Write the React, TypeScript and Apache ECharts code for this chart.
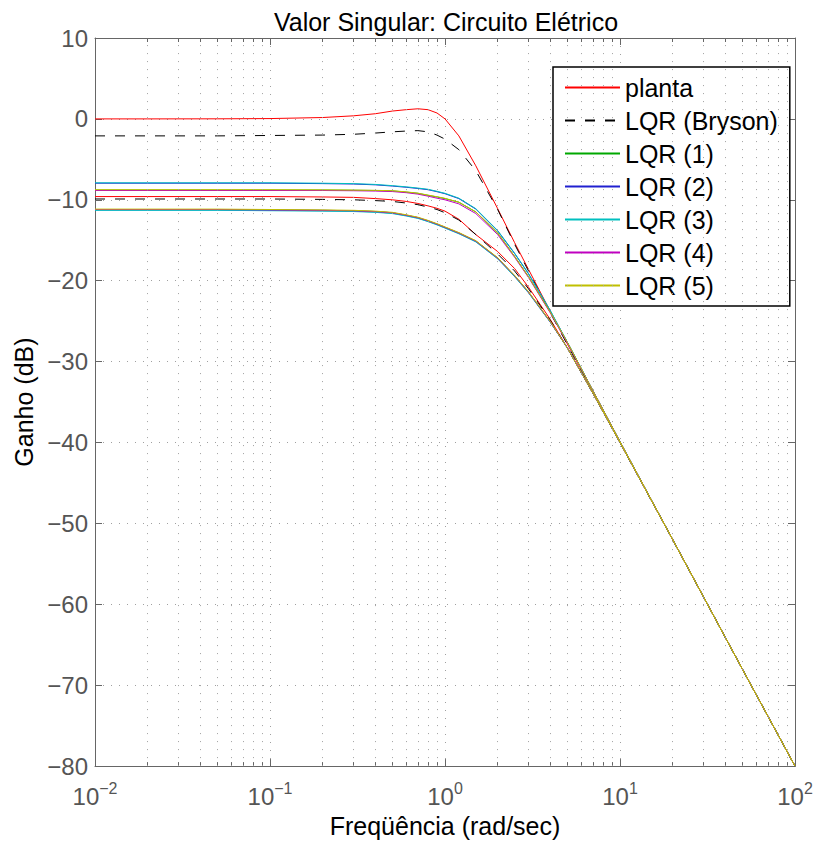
import { useEffect, useRef } from 'react';
import * as echarts from 'echarts';

const freq = [0.01, 0.02, 0.05, 0.1, 0.2, 0.3, 0.4, 0.5, 0.6, 0.7, 0.8, 0.9, 1.0, 1.2, 1.5, 2, 2.5, 3, 4, 5, 7, 10, 20, 50, 100];

// Singular values in dB (first and second singular value of each system)
const plantaSv1 = [0.0, 0.0, 0.01, 0.04, 0.17, 0.38, 0.64, 0.97, 1.14, 1.25, 1.14, 0.73, 0.0, -2.1, -5.8, -11.1, -15.3, -18.6, -23.8, -27.8, -33.7, -40.0, -52.0, -68.0, -80.0];
const plantaSv2 = [-9.6, -9.6, -9.6, -9.6, -9.65, -9.7, -9.85, -10.0, -10.2, -10.45, -10.75, -11.05, -11.4, -12.4, -14.3, -16.4, -18.5, -20.8, -24.8, -28.3, -33.9, -40.0, -52.0, -68.0, -80.0];
const brysonSv1 = [-2.1, -2.1, -2.1, -2.05, -2.0, -1.9, -1.75, -1.6, -1.5, -1.45, -1.6, -2.0, -2.5, -3.8, -6.4, -11.2, -15.5, -18.8, -24.0, -27.9, -33.7, -40.0, -52.0, -68.0, -80.0];
const brysonSv2 = [-9.9, -9.9, -9.9, -9.9, -9.95, -10.0, -10.1, -10.2, -10.4, -10.6, -10.9, -11.2, -11.6, -12.5, -14.3, -16.7, -18.8, -21.0, -24.9, -28.3, -33.9, -40.0, -52.0, -68.0, -80.0];
const lqr1Sv1 = [-8.8, -8.8, -8.8, -8.8, -8.8, -8.82, -8.85, -8.9, -9.05, -9.2, -9.45, -9.65, -9.85, -10.3, -11.5, -14.1, -17.0, -19.5, -23.9, -27.6, -33.6, -39.9, -52.0, -68.0, -80.0];
const lqr1Sv2 = [-11.2, -11.2, -11.2, -11.25, -11.3, -11.35, -11.45, -11.6, -11.9, -12.2, -12.6, -13.0, -13.4, -14.1, -15.1, -17.2, -19.4, -21.4, -25.1, -28.3, -33.9, -40.0, -52.0, -68.0, -80.0];
const lqr2Sv1 = [-7.95, -7.95, -7.95, -7.95, -8.0, -8.05, -8.15, -8.3, -8.45, -8.6, -8.75, -9.0, -9.25, -9.85, -11.15, -13.85, -16.65, -19.15, -23.75, -27.6, -33.6, -39.9, -52.0, -68.0, -80.0];
const lqr2Sv2 = [-11.25, -11.25, -11.25, -11.3, -11.35, -11.4, -11.5, -11.65, -11.95, -12.25, -12.65, -13.05, -13.45, -14.15, -15.15, -17.25, -19.45, -21.45, -25.1, -28.3, -33.9, -40.0, -52.0, -68.0, -80.0];
const lqr3Sv1 = [-7.9, -7.9, -7.9, -7.9, -7.95, -8.0, -8.1, -8.25, -8.4, -8.55, -8.7, -8.95, -9.2, -9.8, -11.1, -13.8, -16.6, -19.1, -23.7, -27.6, -33.6, -39.9, -52.0, -68.0, -80.0];
const lqr3Sv2 = [-11.3, -11.3, -11.3, -11.35, -11.4, -11.45, -11.55, -11.7, -12.0, -12.3, -12.7, -13.1, -13.5, -14.2, -15.2, -17.3, -19.5, -21.5, -25.15, -28.3, -33.9, -40.0, -52.0, -68.0, -80.0];
const lqr4Sv1 = [-8.85, -8.85, -8.85, -8.85, -8.85, -8.88, -8.92, -8.98, -9.12, -9.3, -9.55, -9.8, -10.0, -10.5, -11.7, -14.3, -17.1, -19.6, -24.0, -27.7, -33.6, -39.9, -52.0, -68.0, -80.0];
const lqr4Sv2 = [-11.2, -11.2, -11.2, -11.25, -11.3, -11.35, -11.45, -11.6, -11.9, -12.2, -12.6, -13.0, -13.4, -14.1, -15.1, -17.2, -19.4, -21.4, -25.1, -28.3, -33.9, -40.0, -52.0, -68.0, -80.0];
const lqr5Sv1 = [-8.75, -8.75, -8.75, -8.75, -8.77, -8.8, -8.83, -8.88, -9.02, -9.18, -9.42, -9.62, -9.82, -10.3, -11.5, -14.1, -17.0, -19.5, -23.9, -27.6, -33.6, -39.9, -52.0, -68.0, -80.0];
const lqr5Sv2 = [-11.15, -11.15, -11.15, -11.2, -11.25, -11.3, -11.4, -11.55, -11.85, -12.15, -12.55, -12.95, -13.35, -14.05, -15.05, -17.15, -19.35, -21.35, -25.05, -28.3, -33.9, -40.0, -52.0, -68.0, -80.0];

const seriesNames = ['planta', 'LQR (Bryson)', 'LQR (1)', 'LQR (2)', 'LQR (3)', 'LQR (4)', 'LQR (5)'];
const seriesColors = ['#ff0000', '#000000', '#00a800', '#2020d0', '#00bfbf', '#c000c0', '#c0c000'];
const seriesValues = [
  [plantaSv1, plantaSv2],
  [brysonSv1, brysonSv2],
  [lqr1Sv1, lqr1Sv2],
  [lqr2Sv1, lqr2Sv2],
  [lqr3Sv1, lqr3Sv2],
  [lqr4Sv1, lqr4Sv2],
  [lqr5Sv1, lqr5Sv2],
];

// Axis ticks
const xDecadeExponents = ['\u22122', '\u22121', '0', '1', '2'];
const xMinorValues = [
  0.02, 0.03, 0.04, 0.05, 0.06, 0.07, 0.08, 0.09,
  0.2, 0.3, 0.4, 0.5, 0.6, 0.7, 0.8, 0.9,
  2, 3, 4, 5, 6, 7, 8, 9,
  20, 30, 40, 50, 60, 70, 80, 90,
];
const yMin = -80;
const yMax = 10;
const yStep = 10;

const FONT = '"Liberation Sans", Arial, Helvetica, sans-serif';
const AXIS_COLOR = '#666666';
const TICK_TEXT = '#555555';
const GRID_DOT = { type: [1, 7] as number[], color: '#a0a0a0', width: 1 };

export default function App() {
  const ref = useRef<HTMLDivElement>(null);

  useEffect(() => {
    if (!ref.current) return;
    const chart = echarts.init(ref.current, undefined, { renderer: 'svg' });

    const lineSeries: any[] = [];
    seriesNames.forEach((name, k) => {
      seriesValues[k].forEach((vals) => {
        lineSeries.push({
          type: 'line',
          name,
          xAxisIndex: 0,
          yAxisIndex: 0,
          data: freq.map((f, i) => [f, vals[i]]),
          showSymbol: false,
          symbol: 'none',
          z: 3,
          lineStyle: {
            color: seriesColors[k],
            width: 1,
            type: k === 1 ? [10, 10] : 'solid',
          },
          itemStyle: { color: seriesColors[k] },
          emphasis: { disabled: true },
        });
      });
    });

    const gridSeries = {
      type: 'line',
      name: '__grid',
      xAxisIndex: 0,
      yAxisIndex: 0,
      data: [],
      symbol: 'none',
      z: 1,
      silent: true,
      markLine: {
        silent: true,
        symbol: ['none', 'none'],
        label: { show: false },
        lineStyle: GRID_DOT,
        emphasis: { disabled: true },
        animation: false,
        data: xMinorValues.map((v) => ({ xAxis: v })),
      },
    };

    const logAxisBase = {
      type: 'log',
      logBase: 10,
      min: 0.01,
      max: 100,
      gridIndex: 0,
    };

    const option: any = {
      animation: false,
      backgroundColor: '#ffffff',
      textStyle: { fontFamily: FONT },
      title: {
        text: 'Valor Singular: Circuito El\u00e9trico',
        left: 446,
        top: 9,
        padding: 0,
        textAlign: 'center',
        textStyle: { fontFamily: FONT, fontSize: 25, fontWeight: 'normal', color: '#000000' },
      },
      grid: { left: 95, top: 38, width: 700, height: 735, containLabel: false },
      legend: {
        data: seriesNames,
        orient: 'vertical',
        left: 553,
        top: 67,
        padding: [8, 12, 8, 11],
        itemGap: 8,
        itemWidth: 55,
        itemHeight: 14,
        backgroundColor: '#ffffff',
        borderColor: '#000000',
        borderWidth: 1.5,
        borderRadius: 0,
        selectedMode: false,
        itemStyle: { opacity: 0 },
        textStyle: { fontFamily: FONT, fontSize: 25, lineHeight: 25, color: '#000000' },
      },
      xAxis: [
        {
          ...logAxisBase,
          position: 'bottom',
          name: 'Freq\u00fc\u00eancia (rad/sec)',
          nameLocation: 'middle',
          nameGap: 38,
          nameTextStyle: { fontFamily: FONT, fontSize: 25, color: '#000000' },
          axisLine: { show: true, onZero: false, lineStyle: { color: AXIS_COLOR, width: 1 } },
          axisTick: { show: true, inside: true, length: 7, lineStyle: { color: AXIS_COLOR } },
          splitLine: { show: true, lineStyle: GRID_DOT },
          axisLabel: {
            margin: 14,
            formatter: (val: number) => {
              const e = Math.round(Math.log10(val));
              return `{b|10}{s|${xDecadeExponents[e + 2]}}`;
            },
            rich: {
              b: { fontFamily: FONT, fontSize: 24, lineHeight: 28, color: TICK_TEXT, verticalAlign: 'bottom' },
              s: { fontFamily: FONT, fontSize: 16, lineHeight: 14, color: TICK_TEXT, verticalAlign: 'top' },
            },
          },
        },
        {
          ...logAxisBase,
          position: 'top',
          axisLine: { show: true, onZero: false, lineStyle: { color: AXIS_COLOR, width: 1 } },
          axisTick: { show: true, inside: true, length: 7, lineStyle: { color: AXIS_COLOR } },
          axisLabel: { show: false },
          splitLine: { show: false },
        },
        {
          ...logAxisBase,
          position: 'bottom',
          axisLine: { show: false, onZero: false },
          axisTick: { show: true, inside: true, length: 4, customValues: xMinorValues, lineStyle: { color: AXIS_COLOR } },
          axisLabel: { show: false },
          splitLine: { show: false },
        },
        {
          ...logAxisBase,
          position: 'top',
          axisLine: { show: false, onZero: false },
          axisTick: { show: true, inside: true, length: 4, customValues: xMinorValues, lineStyle: { color: AXIS_COLOR } },
          axisLabel: { show: false },
          splitLine: { show: false },
        },
      ],
      yAxis: [
        {
          type: 'value',
          min: yMin,
          max: yMax,
          interval: yStep,
          position: 'left',
          name: 'Ganho (dB)',
          nameLocation: 'middle',
          nameGap: 57,
          nameTextStyle: { fontFamily: FONT, fontSize: 25, color: '#000000' },
          axisLine: { show: true, onZero: false, lineStyle: { color: AXIS_COLOR, width: 1 } },
          axisTick: { show: true, inside: true, length: 7, lineStyle: { color: AXIS_COLOR } },
          splitLine: { show: true, lineStyle: GRID_DOT },
          axisLabel: {
            margin: 7,
            fontFamily: FONT,
            fontSize: 24,
            color: TICK_TEXT,
            formatter: (v: number) => String(v).replace('-', '\u2212'),
          },
        },
        {
          type: 'value',
          min: yMin,
          max: yMax,
          interval: yStep,
          position: 'right',
          axisLine: { show: true, onZero: false, lineStyle: { color: AXIS_COLOR, width: 1 } },
          axisTick: { show: true, inside: true, length: 7, lineStyle: { color: AXIS_COLOR } },
          axisLabel: { show: false },
          splitLine: { show: false },
        },
      ],
      series: [gridSeries, ...lineSeries],
    };

    chart.setOption(option);
    return () => {
      chart.dispose();
    };
  }, []);

  return (
    <div
      ref={ref}
      style={{ position: 'fixed', left: 0, top: 0, width: 816, height: 843, background: '#fff' }}
    />
  );
}
